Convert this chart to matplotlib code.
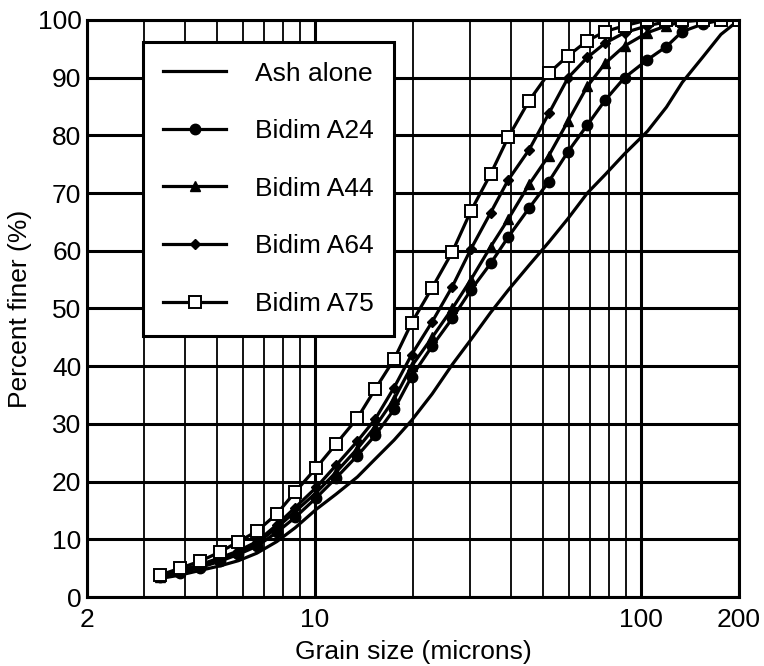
import numpy as np
import matplotlib.pyplot as plt

plt.rcParams['font.family'] = ['Liberation Sans', 'DejaVu Sans']

# grain sizes (microns)
grain = [3.35, 3.86, 4.44, 5.12, 5.83, 6.64, 7.64, 8.70, 10.1, 11.6, 13.5,
         15.3, 17.5, 19.8, 22.9, 26.4, 30.1, 34.6, 39.2, 45.4, 52.2, 59.8,
         68.5, 77.7, 89.1, 104.7, 119.8, 134, 155, 176, 200]

ash = [3.2, 3.8, 4.6, 5.4, 6.3, 7.6, 9.6, 12.0, 15.2, 17.8, 20.8,
       23.9, 27.2, 30.6, 35.2, 40.3, 44.6, 49.3, 53.2, 57.5, 61.5, 65.6,
       70.0, 73.2, 76.8, 80.7, 84.9, 89.2, 93.6, 97.5, 100]

a24 = [3.4, 4.2, 5.1, 6.2, 7.4, 8.8, 11.2, 13.8, 17.2, 20.6, 24.5,
       28.0, 32.5, 38.2, 43.5, 48.3, 53.2, 57.8, 62.4, 67.4, 72.0, 77.2,
       81.8, 86.1, 90.0, 93.1, 95.4, 98.0, 99.3, 100, 100]

a44 = [3.5, 4.5, 5.5, 6.6, 7.8, 9.3, 12.0, 14.8, 18.1, 21.6, 25.7,
       29.5, 34.3, 40.0, 45.0, 50.0, 55.0, 60.7, 65.5, 71.5, 76.5, 82.5,
       88.5, 92.5, 95.5, 97.8, 99.0, 99.7, 100, 100, 100]

a64 = [3.6, 4.6, 5.6, 6.8, 8.0, 9.6, 12.5, 15.5, 19.0, 22.8, 27.0,
       30.8, 36.3, 42.0, 47.7, 53.8, 60.3, 66.6, 72.3, 77.5, 83.8, 90.0,
       93.5, 96.0, 97.8, 99.0, 99.7, 100, 100, 100, 100]

a75 = [3.8, 5.0, 6.2, 7.8, 9.6, 11.4, 14.4, 18.2, 22.4, 26.5, 31.0,
       36.0, 41.2, 47.5, 53.6, 59.8, 66.9, 73.3, 79.7, 86.0, 90.8, 93.8,
       96.4, 98.0, 99.0, 100, 100, 100, 100, 100, 100]

fig = plt.figure(figsize=(7.64, 6.66), dpi=100)
ax = fig.add_axes([0.1139, 0.1036, 0.8534, 0.8664])

lw = 2.3
ax.plot(grain, ash, '-k', linewidth=lw, label='Ash alone')
ax.plot(grain, a24, '-ko', linewidth=lw, markersize=7.5, label='Bidim A24')
ax.plot(grain, a44, '-k^', linewidth=lw, markersize=6.5, label='Bidim A44')
ax.plot(grain, a64, '-kD', linewidth=lw, markersize=5.5, label='Bidim A64')
ax.plot(grain, a75, '-ks', linewidth=lw, markersize=8, markerfacecolor='white',
        markeredgewidth=1.4, label='Bidim A75')

ax.set_xscale('log')
ax.set_xlim(2, 200)
ax.set_ylim(0, 100)
ax.set_xticks([2, 10, 100, 200])
ax.set_xticklabels(['2', '10', '100', '200'])
ax.set_xticks([3, 4, 5, 6, 7, 8, 9, 20, 30, 40, 50, 60, 70, 80, 90], minor=True)
ax.set_yticks(range(0, 101, 10))
ax.tick_params(axis='both', which='both', length=0, labelsize=19)
ax.tick_params(axis='x', pad=8)
ax.tick_params(axis='y', pad=4)

ax.grid(True, which='major', color='black', linewidth=2.2)
ax.grid(True, which='minor', axis='x', color='black', linewidth=1.3)
ax.set_axisbelow(True)
for s in ax.spines.values():
    s.set_linewidth(2.2)

ax.set_xlabel('Grain size (microns)', fontsize=19, labelpad=6)
ax.set_ylabel('Percent finer (%)', fontsize=19, labelpad=4)

leg = ax.legend(loc='upper left', bbox_to_anchor=(0.086, 0.962), fontsize=19,
                frameon=True, fancybox=False, framealpha=1, borderpad=0.75,
                labelspacing=1.27, handlelength=2.4, handletextpad=1.1,
                borderaxespad=0)
leg.get_frame().set_edgecolor('black')
leg.get_frame().set_linewidth(2.2)

fig.savefig('out.png', dpi=100)
